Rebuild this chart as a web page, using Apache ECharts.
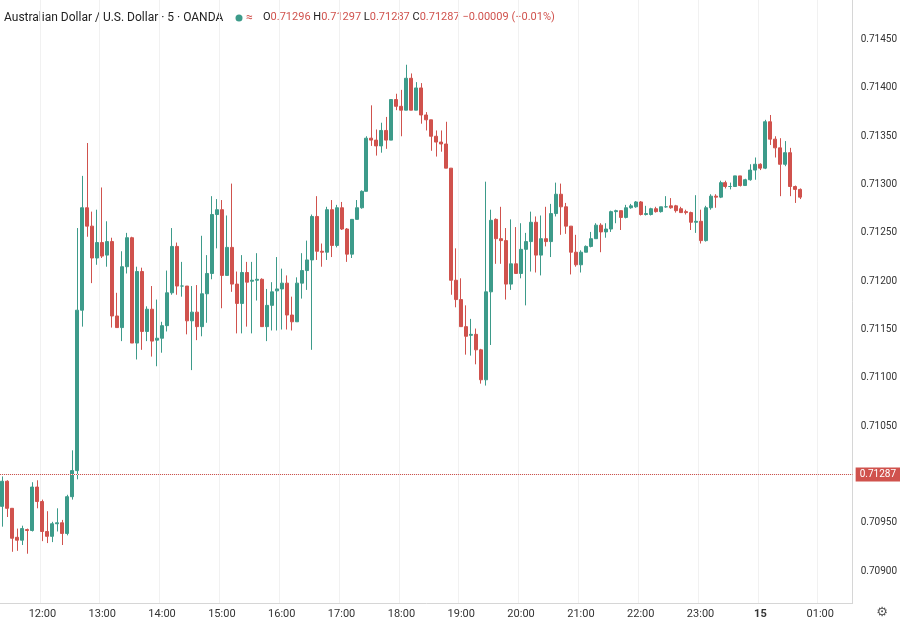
<!DOCTYPE html>
<html><head><meta charset="utf-8">
<script src="https://cdn.jsdelivr.net/npm/echarts@6/dist/echarts.min.js"></script>
<style>html,body{margin:0;padding:0;background:#fff}#c{width:900px;height:622px}</style>
</head><body><div id="c"></div>
<script>
const opens=[0.70967,0.70993,0.70965,0.70935,0.70932,0.70943,0.70942,0.70987,0.70972,0.70941,0.70936,0.70949,0.70950,0.70939,0.70977,0.71004,0.71170,0.71276,0.71257,0.71224,0.71240,0.71227,0.71241,0.71164,0.71152,0.71215,0.71245,0.71136,0.71210,0.71148,0.71171,0.71139,0.71141,0.71154,0.71188,0.71236,0.71195,0.71195,0.71159,0.71168,0.71153,0.71187,0.71208,0.71269,0.71274,0.71206,0.71235,0.71197,0.71177,0.71209,0.71200,0.71201,0.71202,0.71153,0.71175,0.71190,0.71192,0.71198,0.71165,0.71158,0.71198,0.71211,0.71222,0.71267,0.71231,0.71230,0.71274,0.71237,0.71276,0.71254,0.71228,0.71264,0.71276,0.71293,0.71348,0.71346,0.71340,0.71356,0.71346,0.71388,0.71381,0.71377,0.71410,0.71377,0.71400,0.71372,0.71367,0.71350,0.71344,0.71342,0.71317,0.71201,0.71181,0.71153,0.71144,0.71145,0.71129,0.71098,0.71189,0.71264,0.71244,0.71242,0.71197,0.71218,0.71208,0.71233,0.71241,0.71261,0.71227,0.71244,0.71241,0.71270,0.71290,0.71277,0.71257,0.71230,0.71217,0.71230,0.71236,0.71244,0.71258,0.71251,0.71254,0.71272,0.71273,0.71266,0.71276,0.71277,0.71282,0.71269,0.71269,0.71275,0.71272,0.71277,0.71278,0.71278,0.71275,0.71272,0.71271,0.71261,0.71262,0.71242,0.71276,0.71288,0.71287,0.71302,0.71298,0.71298,0.71309,0.71299,0.71305,0.71315,0.71321,0.71317,0.71365,0.71347,0.71338,0.71321,0.71333,0.71298,0.71295];
const closes=[0.70993,0.70965,0.70934,0.70932,0.70944,0.70942,0.70987,0.70972,0.70941,0.70936,0.70949,0.70950,0.70939,0.70977,0.71004,0.71170,0.71276,0.71257,0.71224,0.71240,0.71226,0.71241,0.71164,0.71152,0.71215,0.71245,0.71136,0.71210,0.71148,0.71171,0.71138,0.71141,0.71154,0.71188,0.71236,0.71195,0.71195,0.71159,0.71168,0.71153,0.71187,0.71208,0.71269,0.71274,0.71206,0.71235,0.71197,0.71177,0.71209,0.71199,0.71201,0.71202,0.71153,0.71175,0.71189,0.71192,0.71198,0.71165,0.71158,0.71198,0.71211,0.71222,0.71267,0.71231,0.71230,0.71274,0.71237,0.71276,0.71254,0.71228,0.71264,0.71276,0.71293,0.71348,0.71346,0.71340,0.71356,0.71346,0.71388,0.71381,0.71377,0.71410,0.71377,0.71400,0.71372,0.71367,0.71350,0.71344,0.71342,0.71317,0.71201,0.71181,0.71153,0.71143,0.71145,0.71129,0.71098,0.71189,0.71263,0.71244,0.71242,0.71197,0.71218,0.71208,0.71233,0.71241,0.71261,0.71227,0.71244,0.71241,0.71270,0.71290,0.71277,0.71257,0.71230,0.71217,0.71230,0.71236,0.71244,0.71258,0.71251,0.71254,0.71272,0.71273,0.71266,0.71276,0.71278,0.71282,0.71269,0.71270,0.71275,0.71272,0.71277,0.71277,0.71276,0.71273,0.71271,0.71271,0.71261,0.71262,0.71242,0.71276,0.71288,0.71287,0.71302,0.71298,0.71298,0.71309,0.71299,0.71305,0.71315,0.71321,0.71317,0.71365,0.71347,0.71338,0.71321,0.71333,0.71298,0.71295,0.71287];
const highs=[0.70998,0.70994,0.70965,0.70944,0.70947,0.70944,0.70992,0.70994,0.70974,0.70962,0.70951,0.70965,0.70953,0.70979,0.71025,0.71255,0.71309,0.71343,0.71272,0.71274,0.71297,0.71262,0.71245,0.71188,0.71231,0.71250,0.71246,0.71215,0.71214,0.71174,0.71195,0.71181,0.71158,0.71211,0.71255,0.71240,0.71220,0.71195,0.71195,0.71196,0.71247,0.71227,0.71288,0.71285,0.71284,0.71268,0.71301,0.71210,0.71227,0.71220,0.71220,0.71229,0.71203,0.71192,0.71199,0.71225,0.71213,0.71206,0.71184,0.71204,0.71229,0.71242,0.71269,0.71288,0.71239,0.71277,0.71284,0.71279,0.71282,0.71255,0.71264,0.71284,0.71294,0.71350,0.71382,0.71357,0.71364,0.71370,0.71388,0.71394,0.71398,0.71424,0.71415,0.71406,0.71405,0.71375,0.71367,0.71356,0.71356,0.71365,0.71317,0.71234,0.71203,0.71175,0.71161,0.71151,0.71130,0.71303,0.71274,0.71265,0.71277,0.71255,0.71264,0.71256,0.71260,0.71250,0.71272,0.71267,0.71268,0.71277,0.71280,0.71302,0.71301,0.71281,0.71257,0.71248,0.71232,0.71237,0.71251,0.71260,0.71260,0.71260,0.71273,0.71274,0.71273,0.71279,0.71280,0.71283,0.71283,0.71278,0.71276,0.71277,0.71277,0.71288,0.71286,0.71279,0.71277,0.71274,0.71272,0.71289,0.71274,0.71278,0.71290,0.71290,0.71304,0.71304,0.71302,0.71309,0.71309,0.71306,0.71321,0.71328,0.71322,0.71367,0.71372,0.71350,0.71348,0.71345,0.71338,0.71299,0.71296];
const lows=[0.70946,0.70956,0.70920,0.70921,0.70927,0.70918,0.70941,0.70965,0.70931,0.70929,0.70930,0.70941,0.70927,0.70937,0.70974,0.70995,0.71153,0.71246,0.71198,0.71217,0.71224,0.71215,0.71152,0.71152,0.71138,0.71208,0.71136,0.71119,0.71129,0.71138,0.71122,0.71112,0.71126,0.71148,0.71186,0.71186,0.71184,0.71145,0.71108,0.71139,0.71143,0.71157,0.71202,0.71234,0.71172,0.71206,0.71189,0.71146,0.71146,0.71153,0.71146,0.71180,0.71153,0.71138,0.71149,0.71149,0.71150,0.71150,0.71149,0.71158,0.71182,0.71191,0.71129,0.71222,0.71215,0.71222,0.71225,0.71235,0.71253,0.71220,0.71224,0.71264,0.71275,0.71293,0.71340,0.71330,0.71333,0.71337,0.71346,0.71377,0.71350,0.71377,0.71377,0.71377,0.71363,0.71356,0.71335,0.71329,0.71334,0.71317,0.71186,0.71173,0.71153,0.71124,0.71123,0.71114,0.71094,0.71092,0.71134,0.71218,0.71218,0.71181,0.71191,0.71208,0.71203,0.71175,0.71210,0.71209,0.71206,0.71236,0.71225,0.71267,0.71248,0.71249,0.71207,0.71215,0.71209,0.71230,0.71235,0.71244,0.71230,0.71245,0.71251,0.71260,0.71253,0.71265,0.71275,0.71276,0.71268,0.71268,0.71268,0.71271,0.71271,0.71276,0.71275,0.71271,0.71271,0.71269,0.71253,0.71250,0.71239,0.71241,0.71274,0.71276,0.71286,0.71296,0.71295,0.71298,0.71298,0.71299,0.71304,0.71305,0.71315,0.71316,0.71341,0.71328,0.71288,0.71319,0.71288,0.71281,0.71285];
const yTicks=[0.70900,0.70950,0.71000,0.71050,0.71100,0.71150,0.71200,0.71250,0.71300,0.71350,0.71400,0.71450];
const lastPrice=0.71287;
const startMinutes=11*60+20;
const slotCount=171;
const times=Array.from({length:slotCount},(_,i)=>{const m=(startMinutes+i*5)%1440;return String(Math.floor(m/60)).padStart(2,'0')+':'+String(m%60).padStart(2,'0');});
const UP='#3d9b8a',DOWN='#d0524d';
const data=closes.map((c,i)=>[opens[i],c,lows[i],highs[i]]);
const isHour=(i)=>times[i]&&times[i].endsWith(':00');
const chart=echarts.init(document.getElementById('c'));
chart.setOption({
  animation:false,
  backgroundColor:'#fff',
  grid:{left:0,right:45,top:0,bottom:19},
  xAxis:{type:'category',data:times,boundaryGap:true,
    axisLine:{lineStyle:{color:'#d6d6d6'}},axisTick:{show:false},
    axisLabel:{interval:(i)=>isHour(i),color:'#333',fontSize:11,fontFamily:'Roboto',margin:6,
      formatter:(v)=>v==='00:00'?'{b|15}':v,rich:{b:{fontWeight:'bold',fontSize:11,color:'#333'}}},
    splitLine:{show:true,interval:(i)=>isHour(i),lineStyle:{color:'#f1f1f1'}}},
  yAxis:{type:'value',position:'right',min:0.70867,max:0.71491,scale:true,
    axisLine:{show:true,lineStyle:{color:'#d6d6d6'}},axisTick:{show:false},splitLine:{show:false},
    axisLabel:{customValues:yTicks,color:'#333',fontSize:10,fontFamily:'Roboto',margin:8,formatter:(v)=>v.toFixed(5)}},
  series:[
   {type:'line',data:[],silent:true,z:1,
    markLine:{silent:true,symbol:'none',animation:false,
      data:yTicks.map(v=>({yAxis:v,lineStyle:{color:'#f1f1f1',type:'solid',width:1},label:{show:false}}))}},
   {type:'candlestick',data:data,barWidth:3.5,z:2,
    itemStyle:{color:UP,color0:DOWN,borderColor:UP,borderColor0:DOWN,borderWidth:1}},
   {type:'line',data:[],silent:true,z:3,
    markLine:{silent:true,symbol:'none',animation:false,
      data:[{yAxis:lastPrice,lineStyle:{color:'#d0524d',type:'dotted',width:1},
         label:{show:true,position:'end',formatter:lastPrice.toFixed(5),backgroundColor:'#d0524d',color:'#fff',fontSize:10,fontFamily:'Roboto',padding:[2,4],distance:3}}]}}
  ],
  graphic:[
    {type:'text',left:4,top:12,style:{text:'Australian Dollar / U.S. Dollar · 5 · OANDA',fill:'#222',font:'12px Roboto'}},
    {type:'circle',shape:{cx:239,cy:18,r:3.5},style:{fill:'#3d9b8a'}},
    {type:'text',left:246,top:12,style:{text:'≈',fill:'#d0524d',font:'12px Roboto'}},
    {type:'text',left:263,top:12,style:{rich:{k:{fill:'#222',font:'11px Roboto'},v:{fill:'#d0524d',font:'11px Roboto'}},
      text:'{k|O}{v|0.71296 }{k|H}{v|0.71297 }{k|L}{v|0.71287 }{k|C}{v|0.71287 −0.00009 (−0.01%)}'}},
    {type:'text',right:12,bottom:3,style:{text:'⚙',fill:'#555',font:'13px DejaVu Sans'}}
  ]
});
</script></body></html>
